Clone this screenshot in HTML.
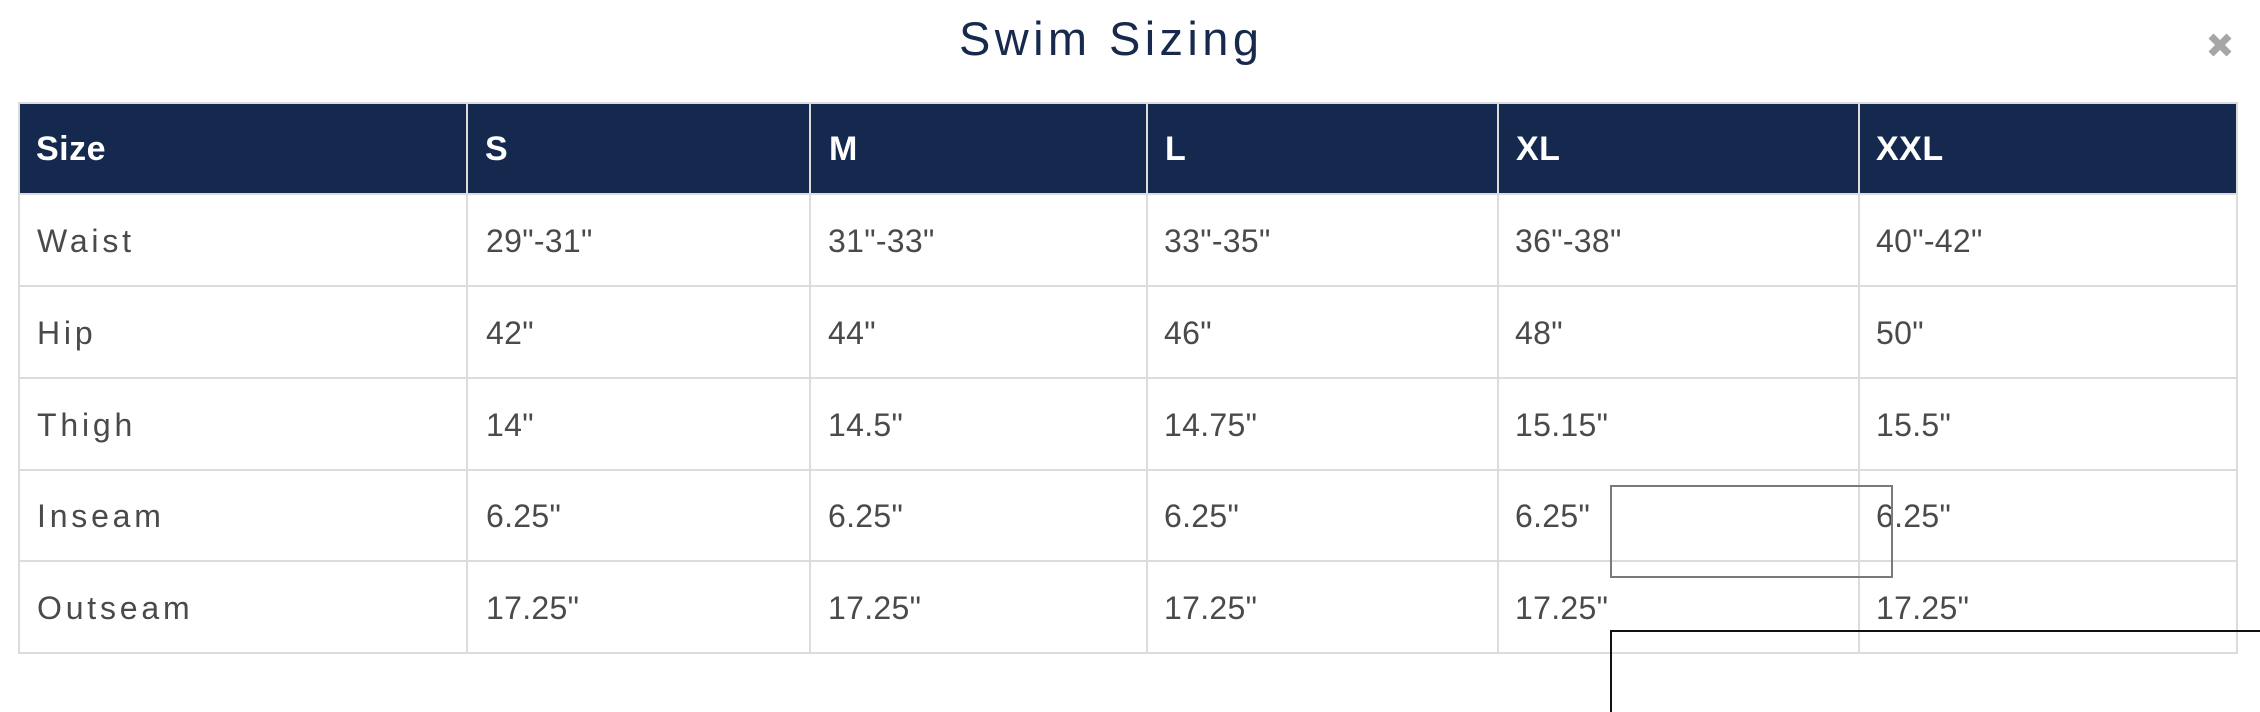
<!DOCTYPE html>
<html>
<head>
<meta charset="utf-8">
<style>
  html, body { margin:0; padding:0; background:#fff; }
  body { width:2260px; height:684px; position:relative; overflow:hidden; font-family:"Liberation Sans", sans-serif; }
  .abs { position:absolute; }
  .title { left:959px; top:10.7px; font-size:47px; line-height:56px; color:#172a4e; letter-spacing:4.4px; white-space:nowrap; }
  .close { left:2206px; top:31px; width:28px; height:28px; }
  .hdr { left:18px; top:102px; width:2220px; height:92px; background:#15294f; }
  .hl { background:#dcdcdc; }
  .th { font-size:34px; line-height:40px; font-weight:bold; color:#fff; top:128.9px; white-space:nowrap; letter-spacing:0.5px; }
  .td { font-size:32px; line-height:40px; color:#4a4a4a; white-space:nowrap; letter-spacing:0.3px; }
  .lab { letter-spacing:3.8px; }
</style>
</head>
<body>
  <div class="abs title">Swim Sizing</div>
  <svg class="abs close" viewBox="0 0 28 28">
    <path d="M5 5 L23 23 M23 5 L5 23" stroke="#a6a6a6" stroke-width="7" stroke-linecap="butt"/>
  </svg>

  <!-- header background and frame -->
  <div class="abs hdr"></div>
  <div class="abs hl" style="left:18px;top:101.5px;width:2220px;height:2px;"></div>
  <!-- horizontal lines -->
  <div class="abs hl" style="left:18px;top:193px;width:2220px;height:2px;"></div>
  <div class="abs hl" style="left:18px;top:285px;width:2220px;height:2px;"></div>
  <div class="abs hl" style="left:18px;top:377px;width:2220px;height:2px;"></div>
  <div class="abs hl" style="left:18px;top:469px;width:2220px;height:2px;"></div>
  <div class="abs hl" style="left:18px;top:560px;width:2220px;height:2px;"></div>
  <div class="abs hl" style="left:18px;top:652px;width:2220px;height:2px;"></div>
  <!-- vertical lines -->
  <div class="abs hl" style="left:18px;top:102px;width:2px;height:552px;"></div>
  <div class="abs hl" style="left:466px;top:102px;width:2px;height:552px;"></div>
  <div class="abs hl" style="left:809px;top:102px;width:2px;height:552px;"></div>
  <div class="abs hl" style="left:1146px;top:102px;width:2px;height:552px;"></div>
  <div class="abs hl" style="left:1497px;top:102px;width:2px;height:552px;"></div>
  <div class="abs hl" style="left:1858px;top:102px;width:2px;height:552px;"></div>
  <div class="abs hl" style="left:2236px;top:102px;width:2px;height:552px;"></div>

  <!-- header text -->
  <div class="abs th" style="left:36px;">Size</div>
  <div class="abs th" style="left:485px;">S</div>
  <div class="abs th" style="left:829px;">M</div>
  <div class="abs th" style="left:1165px;">L</div>
  <div class="abs th" style="left:1516px;">XL</div>
  <div class="abs th" style="left:1876px;">XXL</div>

  <!-- row 1 -->
  <div class="abs td lab" style="left:37px;top:221.2px;">Waist</div>
  <div class="abs td" style="left:486px;top:221.2px;">29"-31"</div>
  <div class="abs td" style="left:828px;top:221.2px;">31"-33"</div>
  <div class="abs td" style="left:1164px;top:221.2px;">33"-35"</div>
  <div class="abs td" style="left:1515px;top:221.2px;">36"-38"</div>
  <div class="abs td" style="left:1876px;top:221.2px;">40"-42"</div>

  <!-- row 2 -->
  <div class="abs td lab" style="left:37px;top:312.9px;">Hip</div>
  <div class="abs td" style="left:486px;top:312.9px;">42"</div>
  <div class="abs td" style="left:828px;top:312.9px;">44"</div>
  <div class="abs td" style="left:1164px;top:312.9px;">46"</div>
  <div class="abs td" style="left:1515px;top:312.9px;">48"</div>
  <div class="abs td" style="left:1876px;top:312.9px;">50"</div>

  <!-- row 3 -->
  <div class="abs td lab" style="left:37px;top:404.6px;">Thigh</div>
  <div class="abs td" style="left:486px;top:404.6px;">14"</div>
  <div class="abs td" style="left:828px;top:404.6px;">14.5"</div>
  <div class="abs td" style="left:1164px;top:404.6px;">14.75"</div>
  <div class="abs td" style="left:1515px;top:404.6px;">15.15"</div>
  <div class="abs td" style="left:1876px;top:404.6px;">15.5"</div>

  <!-- row 4 -->
  <div class="abs td lab" style="left:37px;top:496.3px;">Inseam</div>
  <div class="abs td" style="left:486px;top:496.3px;">6.25"</div>
  <div class="abs td" style="left:828px;top:496.3px;">6.25"</div>
  <div class="abs td" style="left:1164px;top:496.3px;">6.25"</div>
  <div class="abs td" style="left:1515px;top:496.3px;">6.25"</div>
  <div class="abs td" style="left:1876px;top:496.3px;">6.25"</div>

  <!-- row 5 -->
  <div class="abs td lab" style="left:37px;top:588px;">Outseam</div>
  <div class="abs td" style="left:486px;top:588px;">17.25"</div>
  <div class="abs td" style="left:828px;top:588px;">17.25"</div>
  <div class="abs td" style="left:1164px;top:588px;">17.25"</div>
  <div class="abs td" style="left:1515px;top:588px;">17.25"</div>
  <div class="abs td" style="left:1876px;top:588px;">17.25"</div>

  <!-- overlay rectangles -->
  <div class="abs" style="left:1610px;top:485px;width:279px;height:89px;border:2px solid #7a7a7a;"></div>
  <div class="abs" style="left:1610px;top:629.5px;width:660px;height:80px;border-left:2.3px solid #111;border-top:2.3px solid #111;"></div>
</body>
</html>
